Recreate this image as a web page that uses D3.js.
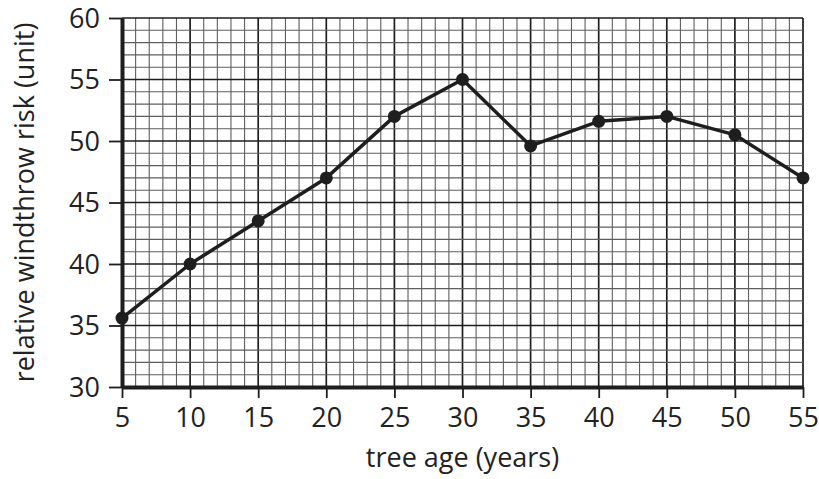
<!DOCTYPE html>
<html><head><meta charset="utf-8">
<script src="https://cdn.jsdelivr.net/npm/d3@7"></script>
<style>body{margin:0;background:#fff}svg{display:block}</style>
</head><body>
<script>
const ages = [5,10,15,20,25,30,35,40,45,50,55];
const risk = [35.6,40,43.5,47,52,55,49.6,51.6,52,50.5,47];
const xTicks = [5,10,15,20,25,30,35,40,45,50,55];
const yTicks = [30,35,40,45,50,55,60];
const xLabel = "tree age (years)";
const yLabel = "relative windthrow risk (unit)";

const W=819,H=479;
const m={left:122,right:16,top:18,bottom:92};
const svg=d3.select("body").append("svg").attr("width",W).attr("height",H);
const x=d3.scaleLinear().domain([5,55]).range([m.left,W-m.right]);
const y=d3.scaleLinear().domain([30,60]).range([H-m.bottom,m.top]);
const font="'Open Sans', sans-serif";
const fs="27px";

const g=svg.append("g");
g.selectAll(".vx").data(d3.range(5,56,1)).join("line")
 .attr("x1",d=>x(d)).attr("x2",d=>x(d)).attr("y1",y(30)).attr("y2",y(60))
 .attr("stroke",d=>d%5===0?"#1e1e1e":"#5e5e5e").attr("stroke-width",d=>d%5===0?1.7:1.1);
g.selectAll(".hy").data(d3.range(30,60.1,1)).join("line")
 .attr("y1",d=>y(d)).attr("y2",d=>y(d)).attr("x1",x(5)).attr("x2",x(55))
 .attr("stroke",d=>d%5===0?"#1e1e1e":"#5e5e5e").attr("stroke-width",d=>d%5===0?1.7:1.1);

const xAxis=d3.axisBottom(x).tickValues(xTicks).tickSize(11).tickPadding(10).tickSizeOuter(0);
const yAxis=d3.axisLeft(y).tickValues(yTicks).tickSize(13).tickPadding(9).tickSizeOuter(0);
const gx=svg.append("g").attr("transform",`translate(0,${y(30)})`).call(xAxis);
const gy=svg.append("g").attr("transform",`translate(${x(5)},0)`).call(yAxis);
[gx,gy].forEach(a=>{
  a.attr("font-size",null).attr("font-family",null);
  a.select(".domain").attr("stroke","#1e1e1e").attr("stroke-width",4);
  a.selectAll(".tick line").attr("stroke","#1e1e1e").attr("stroke-width",1.8);
  a.selectAll(".tick text").attr("fill","#222").style("font-family",font).style("font-size",fs);
});
gy.selectAll(".tick text").attr("dy","0.35em");

svg.append("path").datum(ages.map((a,i)=>[a,risk[i]]))
 .attr("fill","none").attr("stroke","#1e1e1e").attr("stroke-width",3.5).attr("stroke-linejoin","round")
 .attr("d",d3.line().x(d=>x(d[0])).y(d=>y(d[1])));
svg.selectAll(".pt").data(ages.map((a,i)=>[a,risk[i]])).join("circle")
 .attr("cx",d=>x(d[0])).attr("cy",d=>y(d[1])).attr("r",6.5).attr("fill","#1e1e1e");

svg.append("text").attr("x",(x(5)+x(55))/2).attr("y",467).attr("text-anchor","middle")
 .style("font-family",font).style("font-size",fs).attr("fill","#222").text(xLabel);
svg.append("text").attr("transform",`translate(34,${(y(30)+y(60))/2}) rotate(-90)`).attr("text-anchor","middle")
 .style("font-family",font).style("font-size",fs).attr("fill","#222").text(yLabel);
</script>
</body></html>
